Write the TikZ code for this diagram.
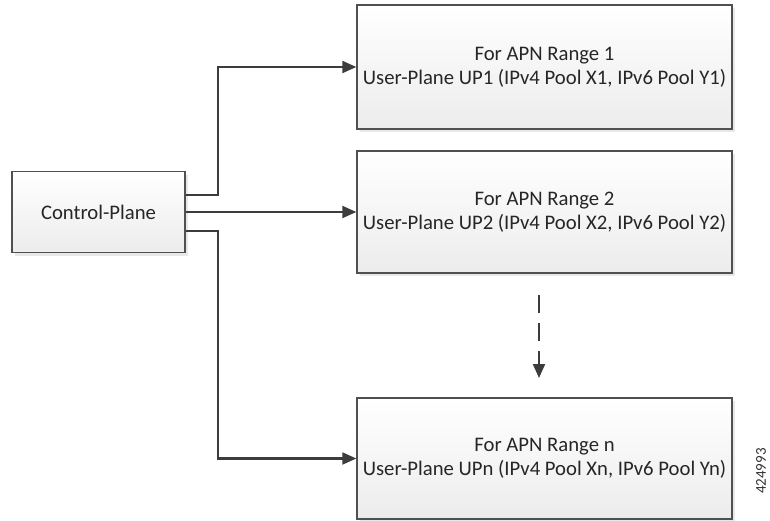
\documentclass[tikz,border=0pt]{standalone}
\usepackage{fontspec}
\setmainfont{Carlito}
\usetikzlibrary{arrows.meta,shadows,calc}
\definecolor{boxline}{RGB}{80,80,80}
\definecolor{arrowcol}{RGB}{60,60,60}
\definecolor{boxbot}{RGB}{236,236,236}
\tikzset{
  planebox/.style={draw=boxline, line width=1.4pt, top color=white, bottom color=boxbot,
    drop shadow={shadow xshift=3pt, shadow yshift=-3pt, opacity=0.18},
    minimum width=#1, inner sep=0pt, align=center, font=\fontsize{20.7}{24}\selectfont, text=black!85},
  conn/.style={draw=arrowcol, line width=2.1pt, -{Triangle[length=14pt,width=12pt]}},
  dashconn/.style={conn, dash pattern=on 18pt off 10pt},
}
\begin{document}
\begin{tikzpicture}[x=1pt,y=-1pt]
\useasboundingbox (0,0) rectangle (770,520);
\node[planebox=173pt, minimum height=81pt] (cp) at (98.5,212) {Control-Plane};
\node[planebox=375pt, minimum height=124pt] (up1) at (544.5,67) {For APN Range 1\\User-Plane UP1 (IPv4 Pool X1, IPv6 Pool Y1)};
\node[planebox=375pt, minimum height=122pt] (up2) at (544.5,212) {For APN Range 2\\User-Plane UP2 (IPv4 Pool X2, IPv6 Pool Y2)};
\node[planebox=375pt, minimum height=121pt] (upn) at (544.5,458.5) {For APN Range n\\User-Plane UPn (IPv4 Pool Xn, IPv6 Pool Yn)};
\coordinate (e1) at ([yshift=17pt]cp.east);
\coordinate (e3) at ([yshift=-19pt]cp.east);
\coordinate (b1) at (218,195);
\coordinate (b3) at (218,231);
\draw[conn] (e1) -- (b1) |- (up1.west);
\draw[conn] (cp.east) -- (up2.west);
\draw[conn] (e3) -- (b3) |- (upn.west);
\coordinate (d1) at (539,295);
\coordinate (d2) at (539,378);
\draw[dashconn] (d1) -- (d2);
\node[rotate=90, inner sep=0pt, font=\fontsize{15}{15}\selectfont, text=black!80] (fig) at (761,471) {424993};
\end{tikzpicture}
\end{document}
